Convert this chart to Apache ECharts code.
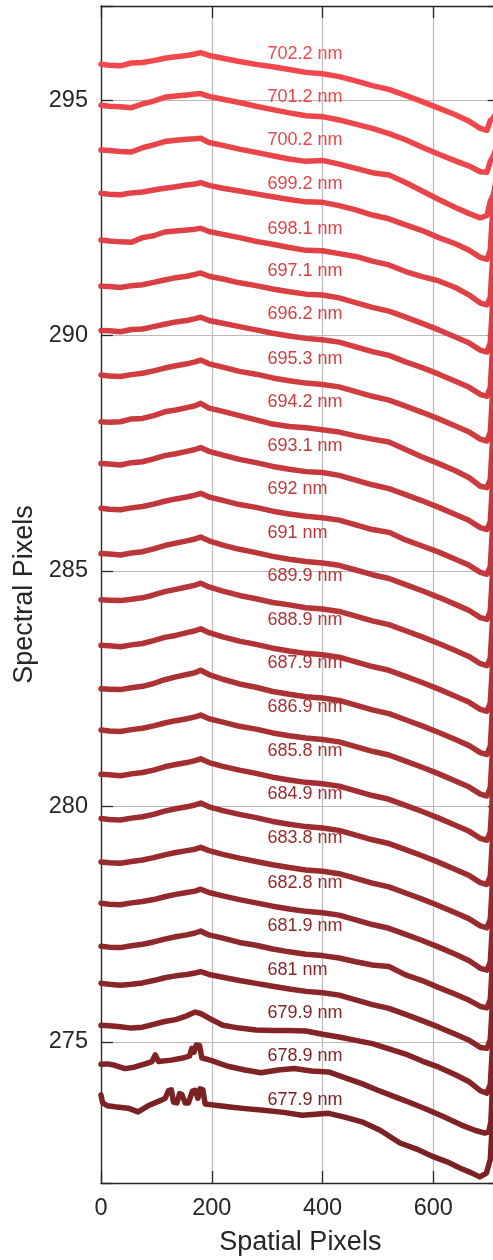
<!DOCTYPE html>
<html><head><meta charset="utf-8">
<script src="https://cdn.jsdelivr.net/npm/echarts@6/dist/echarts.min.js"></script>
<style>html,body{margin:0;padding:0;background:#fff}#c{width:493px;height:1260px}</style>
</head><body><div id="c"></div>
<script>
// Spatial pixel positions shared by most curves
const xCommon = [0,15,35,55,75,95,115,135,155,170,180,195,220,250,280,310,340,370,400,430,460,490,520,550,580,610,640,665,685,697,703,708,714,720];

const w702_2 = [295.76,295.74,295.73,295.79,295.80,295.84,295.89,295.92,295.95,295.98,296.01,295.95,295.89,295.82,295.76,295.71,295.65,295.59,295.56,295.50,295.41,295.31,295.23,295.10,294.97,294.83,294.69,294.55,294.40,294.36,294.57,294.61,294.75,294.95];
const w701_2 = [294.89,294.87,294.86,294.84,294.92,294.98,295.06,295.09,295.11,295.13,295.14,295.08,295.02,294.95,294.87,294.80,294.73,294.67,294.65,294.58,294.49,294.40,294.29,294.16,294.00,293.85,293.71,293.60,293.48,293.47,293.70,293.80,294.00,294.25];
const w700_2 = [293.94,293.93,293.91,293.90,293.99,294.05,294.12,294.15,294.17,294.18,294.19,294.10,294.04,293.96,293.89,293.82,293.75,293.70,293.72,293.64,293.55,293.46,293.41,293.25,293.07,292.89,292.72,292.59,292.50,292.55,292.85,292.98,293.25,293.55];
const w699_2 = [293.02,293.00,292.99,293.03,293.05,293.09,293.13,293.16,293.20,293.22,293.25,293.19,293.13,293.07,293.01,292.95,292.89,292.84,292.83,292.76,292.67,292.56,292.48,292.35,292.23,292.08,291.95,291.81,291.66,291.62,291.82,292.80,293.40,293.90];
const w698_1 = [292.03,292.01,291.99,291.98,292.08,292.12,292.20,292.22,292.24,292.26,292.28,292.21,292.15,292.08,292.00,291.94,291.87,291.81,291.80,291.74,291.68,291.58,291.50,291.36,291.25,291.16,291.02,290.86,290.69,290.65,290.82,291.80,292.40,292.90];
const w697_1 = [291.05,291.04,291.02,291.06,291.08,291.13,291.18,291.23,291.26,291.30,291.33,291.26,291.20,291.12,291.06,290.99,290.93,290.88,290.86,290.80,290.70,290.60,290.52,290.39,290.26,290.12,289.97,289.84,289.69,289.65,289.85,290.85,291.40,291.90];
const w696_2 = [290.11,290.10,290.08,290.13,290.14,290.19,290.24,290.29,290.32,290.36,290.39,290.32,290.26,290.19,290.12,290.05,289.99,289.94,289.91,289.86,289.76,289.66,289.58,289.44,289.32,289.18,289.03,288.90,288.75,288.71,288.90,289.90,290.50,291.00];
const w695_3 = [289.16,289.14,289.13,289.17,289.20,289.25,289.31,289.36,289.40,289.44,289.48,289.40,289.33,289.24,289.18,289.10,289.04,288.99,288.96,288.91,288.81,288.71,288.63,288.50,288.37,288.23,288.08,287.95,287.80,287.76,287.95,288.95,289.50,290.00];
const w694_2 = [288.17,288.16,288.17,288.23,288.24,288.30,288.38,288.42,288.47,288.51,288.56,288.46,288.39,288.30,288.21,288.12,288.07,288.04,288.00,287.95,287.87,287.80,287.74,287.58,287.42,287.28,287.13,286.98,286.80,286.77,286.95,287.95,288.50,289.00];
const w693_1 = [287.28,287.27,287.25,287.30,287.32,287.38,287.45,287.49,287.54,287.58,287.62,287.54,287.46,287.37,287.30,287.22,287.16,287.11,287.09,287.03,286.93,286.83,286.75,286.62,286.49,286.35,286.20,286.07,285.92,285.88,286.05,287.05,287.60,288.10];
const w692_0 = [286.33,286.31,286.30,286.34,286.37,286.42,286.48,286.53,286.57,286.61,286.65,286.57,286.50,286.41,286.35,286.27,286.21,286.16,286.13,286.08,285.98,285.88,285.82,285.66,285.53,285.40,285.25,285.12,284.97,284.93,285.10,286.10,286.65,287.15];
const w691_0 = [285.37,285.36,285.34,285.38,285.41,285.47,285.54,285.59,285.64,285.68,285.72,285.64,285.55,285.46,285.39,285.31,285.25,285.20,285.17,285.12,285.02,284.92,284.84,284.71,284.58,284.44,284.29,284.16,284.01,283.97,284.15,285.15,285.70,286.20];
const w689_9 = [284.39,284.38,284.37,284.40,284.43,284.49,284.56,284.61,284.66,284.70,284.74,284.66,284.57,284.48,284.41,284.33,284.28,284.22,284.19,284.14,284.04,283.94,283.86,283.73,283.60,283.46,283.31,283.18,283.03,282.99,283.15,284.15,284.70,285.20];
const w688_9 = [283.42,283.41,283.39,283.43,283.46,283.52,283.59,283.63,283.69,283.73,283.77,283.69,283.60,283.51,283.44,283.36,283.30,283.25,283.22,283.17,283.07,282.97,282.89,282.76,282.63,282.49,282.34,282.21,282.06,282.02,282.20,283.20,283.75,284.25];
const w687_9 = [282.50,282.49,282.48,282.52,282.55,282.61,282.69,282.75,282.80,282.84,282.89,282.80,282.70,282.60,282.53,282.44,282.38,282.33,282.30,282.25,282.15,282.05,281.97,281.84,281.71,281.57,281.42,281.29,281.14,281.10,281.28,282.28,282.80,283.30];
const w686_9 = [281.62,281.60,281.59,281.63,281.66,281.71,281.77,281.82,281.86,281.90,281.94,281.86,281.79,281.70,281.64,281.56,281.50,281.45,281.42,281.37,281.27,281.17,281.09,280.96,280.83,280.69,280.54,280.41,280.26,280.22,280.40,281.40,281.95,282.45];
const w685_8 = [280.68,280.67,280.65,280.69,280.72,280.77,280.84,280.89,280.93,280.97,281.01,280.93,280.85,280.77,280.70,280.62,280.56,280.51,280.48,280.43,280.33,280.23,280.15,280.02,279.89,279.75,279.60,279.47,279.32,279.28,279.46,280.46,281.00,281.50];
const w684_9 = [279.74,279.72,279.71,279.75,279.78,279.83,279.90,279.95,279.99,280.03,280.07,279.99,279.91,279.83,279.76,279.68,279.62,279.57,279.54,279.49,279.39,279.29,279.21,279.08,278.95,278.81,278.66,278.53,278.38,278.34,278.52,279.52,280.05,280.55];
const w683_8 = [278.82,278.80,278.79,278.83,278.86,278.91,278.97,279.02,279.06,279.09,279.13,279.06,278.98,278.90,278.83,278.76,278.70,278.65,278.62,278.57,278.47,278.37,278.29,278.16,278.03,277.89,277.74,277.61,277.46,277.42,277.60,278.60,279.10,279.60];
const w682_8 = [277.94,277.92,277.91,277.95,277.98,278.02,278.08,278.13,278.17,278.20,278.24,278.17,278.10,278.02,277.95,277.88,277.82,277.77,277.74,277.69,277.59,277.49,277.41,277.28,277.15,277.01,276.86,276.72,276.56,276.52,276.70,277.70,278.20,278.70];
const w681_9 = [277.03,277.01,277.00,277.04,277.07,277.12,277.18,277.23,277.27,277.31,277.35,277.27,277.20,277.11,277.05,276.97,276.91,276.86,276.83,276.78,276.70,276.63,276.60,276.42,276.30,276.15,276.01,275.88,275.75,275.72,275.90,276.90,277.40,277.90];
const w681_0 = [276.24,276.22,276.20,276.22,276.25,276.30,276.36,276.40,276.43,276.46,276.49,276.43,276.37,276.30,276.24,276.18,276.12,276.07,276.04,275.99,275.89,275.79,275.71,275.58,275.45,275.31,275.16,275.03,274.88,274.86,275.05,276.05,276.55,277.05];
const w679_9 = [275.35,275.34,275.32,275.29,275.31,275.37,275.43,275.47,275.55,275.63,275.60,275.50,275.35,275.29,275.25,275.24,275.24,275.23,275.16,275.10,275.03,274.96,274.85,274.74,274.59,274.46,274.30,274.15,273.96,273.91,274.10,275.10,275.60,276.10];

// The two lowest curves are noisier and sampled at their own positions
const x678_9 = [0,12,25,43,60,80,92,98,104,127,150,160,164,168,172,178,182,200,229,260,289,320,349,380,411,440,471,500,531,560,591,620,651,675,693,700,704,708,714,720];
const w678_9 = [274.52,274.53,274.50,274.43,274.46,274.53,274.58,274.72,274.58,274.61,274.66,274.70,274.86,274.78,274.93,274.92,274.66,274.60,274.48,274.40,274.34,274.40,274.43,274.38,274.36,274.24,274.11,273.97,273.83,273.70,273.55,273.40,273.23,273.12,273.06,273.08,273.30,274.30,274.80,275.30];
const x677_9 = [0,3,12,25,49,67,85,109,116,122,127,131,137,142,146,152,158,165,170,175,179,184,188,229,260,289,330,363,411,440,471,504,540,570,600,625,648,668,684,696,703,708,714,720];
const w677_9 = [273.87,273.70,273.64,273.62,273.59,273.51,273.64,273.76,273.80,273.96,273.98,273.72,273.70,273.90,273.88,273.70,273.70,273.95,273.97,273.80,274.00,273.98,273.68,273.62,273.58,273.55,273.50,273.44,273.48,273.40,273.30,273.12,272.85,272.72,272.56,272.45,272.32,272.22,272.13,272.21,272.50,273.50,274.00,274.50];

const waveLabels = ['702.2 nm','701.2 nm','700.2 nm','699.2 nm','698.1 nm','697.1 nm','696.2 nm','695.3 nm','694.2 nm','693.1 nm','692 nm','691 nm','689.9 nm','688.9 nm','687.9 nm','686.9 nm','685.8 nm','684.9 nm','683.8 nm','682.8 nm','681.9 nm','681 nm','679.9 nm','678.9 nm','677.9 nm'];
const labelX = 300;
const labelY = [295.99,295.07,294.15,293.21,292.27,291.37,290.45,289.51,288.58,287.65,286.73,285.81,284.89,283.96,283.04,282.11,281.18,280.26,279.32,278.38,277.46,276.52,275.61,274.69,273.77];

const curveValues = [w702_2,w701_2,w700_2,w699_2,w698_1,w697_1,w696_2,w695_3,w694_2,w693_1,w692_0,w691_0,w689_9,w688_9,w687_9,w686_9,w685_8,w684_9,w683_8,w682_8,w681_9,w681_0,w679_9,w678_9,w677_9];
const curveX = curveValues.map((v,i)=> i===23 ? x678_9 : (i===24 ? x677_9 : xCommon));

// colour ramp from bright red (top) to dark maroon (bottom)
const topC = [242,72,77], botC = [122,33,36];
const n = curveValues.length;
const colors = curveValues.map((_,i)=>{
  const t = i/(n-1);
  const c = topC.map((a,k)=>Math.round(a + (botC[k]-a)*t));
  return 'rgb(' + c.join(',') + ')';
});

const FONT = "'Liberation Sans', Arial, Helvetica, sans-serif";
const AX = '#262626';
const GRIDC = '#b9b9b9';

const series = curveValues.map((ys,i)=>({
  type:'line',
  data: curveX[i].map((x,j)=>[x, ys[j]]),
  symbol:'none', showSymbol:false, silent:true, animation:false, clip:true,
  lineStyle:{width:5.5, color:colors[i], join:'round', cap:'round'},
  itemStyle:{color:colors[i]}, z:2
}));
// one text-only point per curve for its wavelength label
curveValues.forEach((_,i)=>{
  series.push({
    type:'scatter', silent:true, animation:false, z:6,
    symbol:'circle', symbolSize:0.5,
    itemStyle:{color:colors[i], opacity:1},
    data:[{name:waveLabels[i], value:[labelX, labelY[i]]}],
    label:{show:true, position:'right', distance:0, formatter:p=>p.name,
      fontSize:18, fontFamily:FONT, color:colors[i], opacity:1,
      textBorderWidth:0}
  });
});

const chart = echarts.init(document.getElementById('c'), null, {renderer:'canvas', width:493, height:1260});
chart.setOption({
  animation:false,
  backgroundColor:'#ffffff',
  grid:{left:101, top:6, width:398.7, height:1177, containLabel:false, outerBoundsMode:'none'},
  xAxis:[{
    type:'value', min:0, max:720, interval:200, position:'bottom',
    name:'Spatial Pixels', nameLocation:'middle', nameGap:46,
    nameTextStyle:{fontSize:27, color:AX, fontFamily:FONT},
    axisLine:{show:true, onZero:false, lineStyle:{color:AX, width:1.3}},
    axisTick:{show:true, inside:true, length:12, lineStyle:{color:AX, width:1.3}},
    axisLabel:{fontSize:23.5, color:AX, margin:14, fontFamily:FONT, showMaxLabel:false},
    splitLine:{show:true, lineStyle:{color:GRIDC, width:1.2}}
  },{
    type:'value', min:0, max:720, interval:200, position:'top',
    axisLine:{show:true, onZero:false, lineStyle:{color:AX, width:1.3}},
    axisTick:{show:true, inside:true, length:12, lineStyle:{color:AX, width:1.3}},
    axisLabel:{show:false}, splitLine:{show:false}
  }],
  yAxis:[{
    type:'value', min:272, max:297, splitNumber:5, position:'left',
    name:'Spectral Pixels', nameLocation:'middle', nameGap:62, nameRotate:90,
    nameTextStyle:{fontSize:27, color:AX, fontFamily:FONT},
    axisLine:{show:true, onZero:false, lineStyle:{color:AX, width:1.3}},
    axisTick:{show:true, inside:true, length:12, lineStyle:{color:AX, width:1.3}},
    axisLabel:{fontSize:23.5, color:AX, margin:13, fontFamily:FONT,
      formatter:v=> (v%5===0 ? String(v) : '')},
    splitLine:{show:true, lineStyle:{color:GRIDC, width:1.2}}
  },{
    type:'value', min:272, max:297, splitNumber:5, position:'right',
    axisLine:{show:true, onZero:false, lineStyle:{color:AX, width:1.3}},
    axisTick:{show:true, inside:true, length:12, lineStyle:{color:AX, width:1.3}},
    axisLabel:{show:false}, splitLine:{show:false}
  }],
  series: series
});
</script></body></html>
